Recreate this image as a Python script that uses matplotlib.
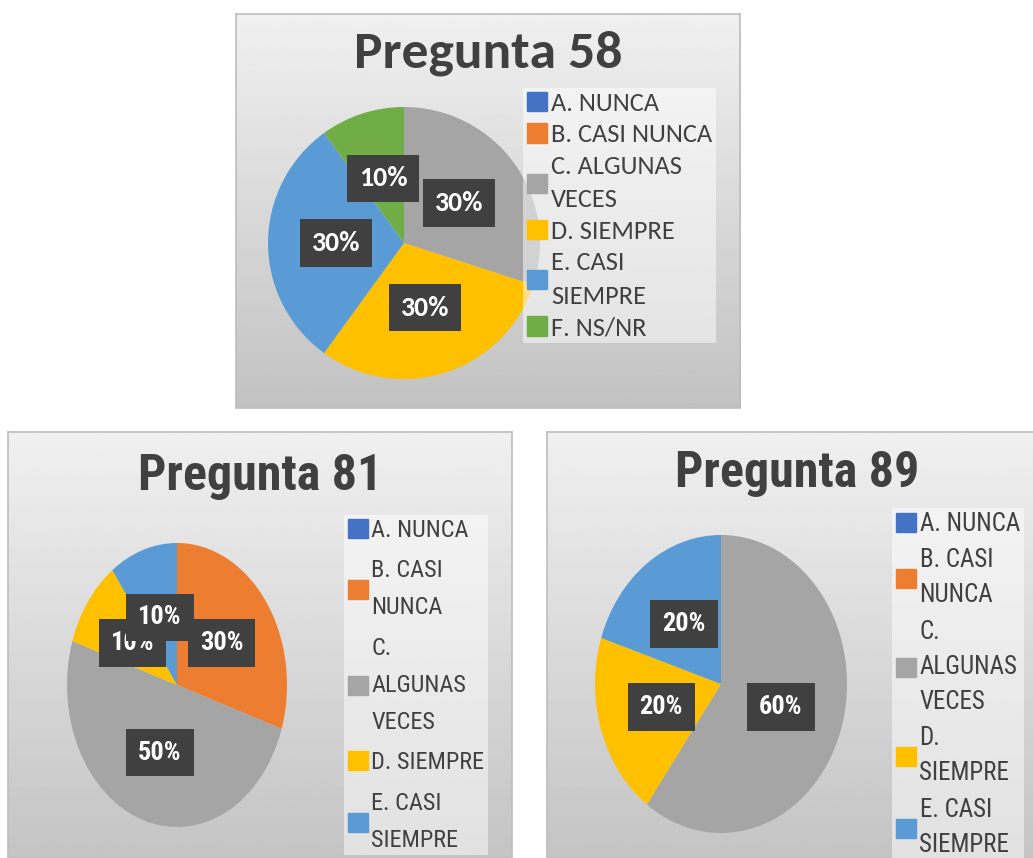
import numpy as np
import matplotlib

matplotlib.use("Agg")

import matplotlib.pyplot as plt
import matplotlib.patches as mpatches
from matplotlib import font_manager

W, H = 1033, 858

# --- data -------------------------------------------------------------
labels_58 = ["A. NUNCA", "B. CASI NUNCA", "C. ALGUNAS\nVECES", "D. SIEMPRE",
             "E. CASI\nSIEMPRE", "F. NS/NR"]
values_58 = [0, 0, 30, 30, 30, 10]

labels_81 = ["A. NUNCA", "B. CASI\nNUNCA", "C.\nALGUNAS\nVECES", "D. SIEMPRE",
             "E. CASI\nSIEMPRE"]
values_81 = [0, 30, 50, 10, 10]

labels_89 = ["A. NUNCA", "B. CASI\nNUNCA", "C.\nALGUNAS\nVECES", "D.\nSIEMPRE",
             "E. CASI\nSIEMPRE"]
values_89 = [0, 0, 60, 20, 20]

palette = ["#4472C4", "#ED7D31", "#A5A5A5", "#FFC000", "#5B9BD5", "#70AD47"]

# --- fonts ------------------------------------------------------------
avail = {f.name for f in font_manager.fontManager.ttflist}


def pick(*names):
    for n in names:
        if n in avail:
            return n
    return "DejaVu Sans"


MAIN = pick("Carlito", "Lato", "Open Sans")
NARROW = pick("Roboto Condensed", "PT Sans Narrow", "Archivo Narrow")


def frect(x0, y0, x1, y1):
    """pixel box (top-left origin) -> figure fraction rect"""
    return [x0 / W, 1 - y1 / H, (x1 - x0) / W, (y1 - y0) / H]


def panel(fig, box, pie_box, title, title_xy, title_size, labels, values,
          font, pct_size, pct_pad, leg_xy, leg_size, leg_spacing, line_spacing):
    # gradient background + thin border
    bg = fig.add_axes(frect(*box), zorder=0)
    grad = np.linspace(0.76, 0.94, 256)[:, None]
    bg.imshow(grad, cmap="gray", vmin=0, vmax=1, aspect="auto",
              extent=[0, 1, 0, 1], origin="lower")
    bg.set_xticks([])
    bg.set_yticks([])
    for s in bg.spines.values():
        s.set_color("#bdbdbd")
        s.set_linewidth(1.2)

    ax = fig.add_axes(frect(*pie_box), zorder=1)
    ax.pie(values, colors=palette[:len(values)], startangle=90, counterclock=False,
           radius=1, pctdistance=0.5, wedgeprops=dict(linewidth=0),
           autopct=lambda p: f"{p:.0f}%" if p > 0.5 else "",
           textprops=dict(color="white", fontweight="bold", fontsize=pct_size,
                          family=font,
                          bbox=dict(boxstyle=f"square,pad={pct_pad}",
                                    fc="#404040", ec="none")))
    ax.set_aspect("auto")
    ax.set_xlim(-1, 1)
    ax.set_ylim(-1, 1)

    fig.text(title_xy[0] / W, 1 - title_xy[1] / H, title, ha="center",
             va="baseline", fontsize=title_size, fontweight="bold",
             color="#404040", family=font)

    handles = [mpatches.Patch(color=c, label=l) for c, l in zip(palette, labels)]
    fs_px = leg_size * 100 / 72
    leg = fig.legend(handles=handles, loc="upper left",
                     bbox_to_anchor=(leg_xy[0] / W, 1 - leg_xy[1] / H),
                     frameon=True, fancybox=False, framealpha=0.5,
                     facecolor="white", edgecolor="none",
                     borderpad=0.15, borderaxespad=0, handletextpad=0.15,
                     handlelength=20 / fs_px, handleheight=20 / fs_px,
                     labelspacing=leg_spacing,
                     prop=dict(family=font, size=leg_size))
    for t in leg.get_texts():
        t.set_color("#404040")
        t.set_linespacing(line_spacing)
    leg.set_zorder(5)


fig = plt.figure(figsize=(W / 100, H / 100), dpi=100)
fig.patch.set_facecolor("white")

panel(fig, (236, 14, 740, 408), (268, 107, 540, 379), "Pregunta 58", (488, 67), 38.5,
      labels_58, values_58, MAIN, 20, 0.42, (523, 88), 19, 0.32, 1.55)

panel(fig, (8, 432, 512, 880), (67, 543, 287, 827), "Pregunta 81", (260, 490), 36,
      labels_81, values_81, NARROW, 19, 0.45, (344, 515), 17.5, 0.72, 1.78)

panel(fig, (547, 432, 1060, 880), (595, 535, 847, 833), "Pregunta 89", (797, 487), 36,
      labels_89, values_89, NARROW, 19, 0.45, (892, 508), 18, 0.5, 1.58)

fig.savefig("out.png", dpi=100, facecolor=fig.get_facecolor())
